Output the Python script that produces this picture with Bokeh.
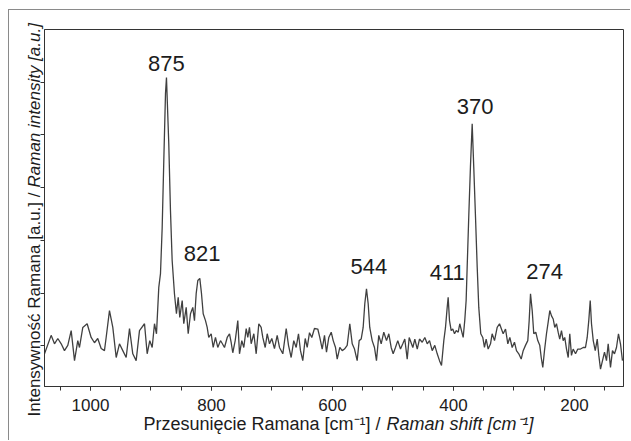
import math
from bokeh.plotting import figure
from bokeh.models import Range1d, FixedTicker, Label, ColumnDataSource
from bokeh.core.properties import value
from bokeh.embed import file_html
from bokeh.resources import INLINE

# Raman shift [cm^-1] (descending) and intensity [a.u.]
shift = [
    1076.0, 1065.0, 1059.5, 1054.0, 1048.4, 1043.0, 1037.5, 1031.9, 1026.4, 1021.0,
    1018.2, 1012.7, 1005.5, 998.9, 993.4, 988.0, 982.3, 976.9, 974.1, 968.6,
    963.1, 957.5, 952.1, 946.6, 941.0, 935.5, 930.1, 924.5, 919.0,
    910.7, 906.3, 902.0, 898.0, 894.2, 890.9, 887.1, 884.3, 881.5, 878.8,
    876.0, 874.4, 870.6, 867.8, 865.0, 861.2, 857.9, 855.0, 852.4, 848.4,
    845.8, 841.8, 838.5, 834.7, 830.9, 828.1, 825.3, 822.6, 819.3, 816.5,
    813.7, 809.9, 807.1, 804.5, 800.5, 797.2, 793.4, 789.6, 785.1,
    782.9, 778.5, 774.0, 770.2, 767.4, 764.8, 760.8, 756.5, 753.7, 749.9,
    746.6, 742.6, 740.0, 737.2, 734.4, 730.0, 726.1, 721.8, 717.9, 715.2,
    711.2, 707.9, 704.1, 700.3, 695.9, 691.4, 687.6, 682.1, 676.5, 672.7,
    668.3, 664.0, 660.0, 656.2, 652.9, 649.1, 645.1, 641.8, 638.0, 634.2, 629.8,
    624.3, 621.0, 617.0, 613.2, 609.9, 606.1, 602.1, 598.8, 595.0, 592.2,
    587.9, 583.9, 580.2, 575.7, 571.4, 567.4, 563.6, 559.2, 555.9, 552.6,
    549.3, 546.6, 543.8, 541.0, 538.4, 534.4, 530.6, 527.3, 523.5, 519.5,
    515.2, 510.7, 506.9, 503.0, 499.7, 495.9, 492.1, 487.6, 483.8, 480.5,
    476.5, 473.2,
    467.2, 463.9, 459.9, 456.2, 451.7, 447.4, 443.4, 439.6, 435.2, 430.9,
    426.9, 423.1, 419.8, 416.0, 413.2, 410.4, 408.8, 406.6, 403.8, 401.2,
    398.3, 395.5, 392.2, 389.6, 386.8, 384.0, 381.4, 379.1, 377.4, 374.8,
    372.0, 369.1, 366.5, 363.6, 360.8, 358.2, 354.9, 351.6, 348.8, 346.0,
    342.7, 338.8, 336.1, 332.2, 327.8, 323.9,
    317.9, 314.0, 310.2, 306.9, 303.0, 299.2, 295.9, 292.1, 288.1, 284.8,
    281.0, 277.2, 274.9, 272.7, 269.9, 267.3, 264.0, 260.7, 257.4, 255.0,
    252.4, 249.6, 246.3, 243.5, 240.8, 238.0, 235.2, 232.6, 229.8, 227.0,
    224.4, 221.5, 218.7, 216.1, 213.2, 210.4, 207.8, 205.0, 202.2, 198.3,
    194.5, 190.1, 185.6, 181.8, 179.0, 176.4, 174.0, 171.9, 169.0, 165.7,
    162.4, 159.8, 157.0, 153.7, 150.4, 147.1, 144.3, 140.5, 137.2, 133.9,
    130.6, 127.3, 124.0, 120.7,
]
intensity = [
    0.85, 1.20, 1.04, 1.14, 1.04, 0.91, 1.01, 1.29, 0.72, 1.10,
    0.97, 1.35, 1.42, 1.16, 1.06, 1.14, 0.95, 0.91, 1.16, 1.67,
    1.35, 0.78, 1.04, 0.91, 0.78, 1.33, 0.85, 0.72, 1.29,
    1.42, 0.85, 1.10, 0.97, 1.42, 1.23, 2.11, 2.37, 3.24, 4.52,
    5.79, 6.09, 4.84, 3.57, 2.62, 1.99, 1.61, 1.92, 1.54, 1.86,
    1.42, 1.73, 1.23, 1.61, 1.73, 1.48, 1.99, 2.24, 2.28, 1.99,
    1.61, 1.48, 1.35, 1.16, 1.23, 0.97, 1.16, 0.97, 1.10,
    1.06, 0.97, 1.16, 1.23, 1.06, 0.87, 1.10, 1.48, 0.85, 1.10,
    0.97, 1.33, 1.16, 1.35, 1.04, 1.23, 0.85, 1.42, 1.35, 1.16,
    0.97, 1.23, 1.04, 1.14, 0.95, 1.20, 0.97, 0.85, 1.33, 1.01,
    0.78, 1.10, 0.97, 1.23, 0.91, 0.72, 1.14, 0.97, 1.25, 1.16, 1.33,
    1.32, 1.16, 0.94, 1.20, 0.88, 1.16, 1.26, 1.10, 0.97, 0.75,
    0.97, 0.91, 0.94, 1.01, 1.42, 1.04, 0.94, 0.72, 1.10, 1.13,
    1.35, 1.80, 2.08, 1.80, 1.35, 1.10, 0.97, 0.72, 1.20, 1.04,
    1.26, 1.10, 1.23, 0.97, 0.85, 0.97, 1.10, 0.94, 1.04, 1.13,
    0.75, 1.16,
    0.97, 1.13, 0.94, 1.13, 1.07, 1.16, 1.04, 1.10, 0.91, 1.01,
    0.85, 0.72, 0.63, 1.10, 1.35, 1.73, 1.92, 1.48, 1.29, 1.32,
    1.23, 1.29, 1.26, 1.42, 1.29, 1.16, 1.48, 1.86, 2.49, 3.44,
    4.39, 5.21, 4.39, 3.44, 2.49, 1.73, 1.23, 1.16, 0.97, 1.13,
    0.94, 1.04, 1.23, 1.10, 1.35, 1.42,
    1.23, 1.32, 1.04, 1.16, 0.97, 1.07, 0.91, 0.85, 0.75, 0.91,
    1.01, 1.10, 1.48, 1.99, 1.67, 1.23, 1.26, 1.10, 1.01, 0.78,
    0.59, 0.91, 1.23, 1.45, 1.67, 1.57, 1.51, 1.35, 1.42, 1.26,
    1.13, 1.29, 1.10, 1.16, 0.94, 0.78, 1.23, 0.82, 0.94, 0.85,
    0.94, 0.94, 0.97, 0.97, 1.16, 1.48, 1.86, 1.42, 1.10, 0.91,
    1.13, 0.82, 0.56, 0.72, 0.88, 0.72, 1.04, 0.59, 0.91, 0.85,
    0.97, 1.23, 1.04, 0.72,
]

# Peak annotations
peak_labels = ["875", "821", "544", "411", "370", "274"]
peak_label_x = [874.5, 815.4, 540.0, 410.4, 364.4, 249.3]
peak_label_y = [6.36, 2.75, 2.51, 2.39, 5.54, 2.41]

x_tick_labels = [1000, 800, 600, 400, 200]
x_minor_ticks = [1050, 1000, 950, 900, 850, 800, 750, 700, 650, 600, 550, 500,
                 450, 400, 350, 300, 250, 200, 150]
y_ticks = [1, 2, 3, 4, 5, 6]

FONT = "Liberation Sans"
TXT = "#1c1c1c"
GRAY = "#8a8a8a"

p = figure(width=630, height=440, output_backend="svg", toolbar_location=None,
           x_range=Range1d(1076, 119), y_range=Range1d(0.23, 7.0),
           min_border_left=44, min_border_top=29, min_border_right=7,
           min_border_bottom=54)
# outer thin frame of the picture (left and top edges), drawn behind the canvas
p.styles = {
    "background-image": f"linear-gradient({GRAY},{GRAY}), linear-gradient({GRAY},{GRAY})",
    "background-size": "1px 100%, 100% 1px",
    "background-position": "8px 9px, 8px 9px",
    "background-repeat": "no-repeat",
}
p.background_fill_color = "white"
p.border_fill_color = None
p.outline_line_color = "#333333"
p.outline_line_width = 1
p.grid.visible = False

src = ColumnDataSource(dict(x=shift, y=intensity))
p.line("x", "y", source=src, line_color="#404040", line_width=1.3)

lsrc = ColumnDataSource(dict(x=peak_label_x, y=peak_label_y, t=peak_labels))
p.text("x", "y", text="t", source=lsrc, text_align="center", text_baseline="middle",
       text_font=value(FONT), text_font_size="22px", text_color=TXT)

xa = p.xaxis[0]
xa.ticker = FixedTicker(ticks=x_tick_labels, minor_ticks=x_minor_ticks)
xa.major_tick_in = 0
xa.major_tick_out = 4
xa.minor_tick_in = 0
xa.minor_tick_out = 4
xa.major_label_standoff = 8
xa.major_label_text_font = FONT
xa.major_label_text_font_size = "17px"
xa.major_label_text_color = TXT
xa.axis_line_color = "#333333"
xa.major_tick_line_color = "#333333"
xa.minor_tick_line_color = "#333333"

ya = p.yaxis[0]
ya.ticker = FixedTicker(ticks=y_ticks, minor_ticks=[])
ya.major_tick_in = 0
ya.major_tick_out = 4
ya.minor_tick_out = 0
ya.minor_tick_in = 0
ya.major_label_overrides = {t: "" for t in y_ticks}
ya.major_label_standoff = 0
ya.axis_line_color = "#333333"
ya.major_tick_line_color = "#333333"

def add_label(side, x, y, text, align, size, angle=0.0, italic=False):
    # canvas units: pixels from the canvas's top-left corner; placed in a side
    # panel so that the text is not clipped to the plot frame
    p.add_layout(Label(x=x, y=y, x_units="canvas", y_units="canvas", text=text,
                       text_align=align, text_baseline="middle", angle=angle,
                       text_font=FONT, text_font_size=size, text_color=TXT,
                       text_font_style="italic" if italic else "normal"), side)

# x-axis title (roman / italic)
add_label("below", 380, 423, "Przesunięcie Ramana [cm\u207b\u00b9] /", "right", "18px")
add_label("above", 386, 423, "Raman shift [cm\u207b\u00b9]", "left", "18px", italic=True)
# y-axis title (rotated)
add_label("left", 34, 192, "Intensywność Ramana [a.u.] /", "right", "17px", angle=math.pi / 2)
add_label("left", 34, 187, "Raman intensity [a.u.]", "left", "17px", angle=math.pi / 2, italic=True)

open("out.html", "w").write(file_html(p, INLINE))
